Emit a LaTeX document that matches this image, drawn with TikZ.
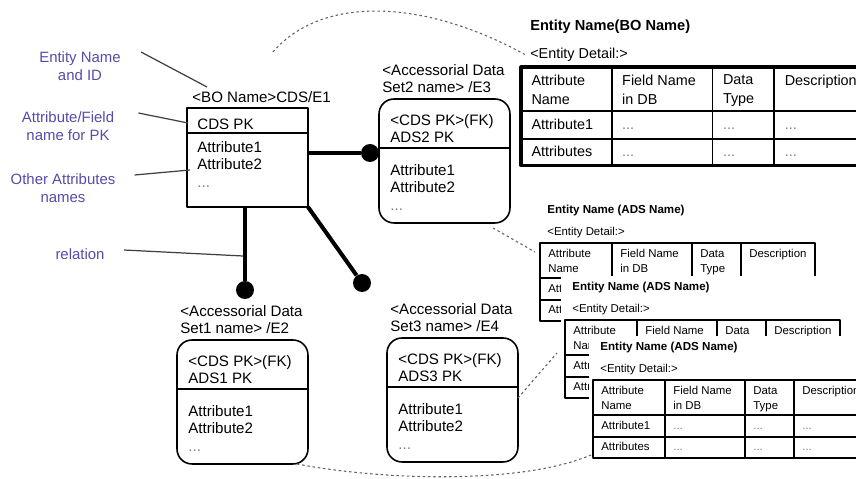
\documentclass[tikz,border=0pt]{standalone}
\usepackage{fontspec}
\setmainfont{Liberation Sans}
\definecolor{hintblue}{RGB}{86,76,170}
\definecolor{linkgray}{RGB}{95,95,95}
\tikzset{
  boxtxt/.style={inner sep=0, align=left, font=\fontsize{8.6}{10}\selectfont},
  hint/.style={inner sep=0, align=center, text=hintblue, font=\fontsize{8.5}{10.2}\selectfont},
  pointer/.style={draw=black!75, line width=0.7pt},
  entbox/.style={draw, line width=0.9pt, inner sep=0, outer sep=0},
  entline/.style={line width=0.9pt},
  adsbox/.style={entbox, rounded corners=0.3cm, minimum width=2.62cm, minimum height=2.48cm},
  rel/.style={line width=2.3pt},
  reldot/.style={circle, fill, inner sep=0, minimum size=0.36cm},
  dotlink/.style={draw=linkgray, line width=0.6pt, dash pattern=on 1.4pt off 1.6pt},
  tabtxt/.style={inner sep=0, align=left, font=\fontsize{6.5}{8.5}\selectfont},
  tabtitle/.style={inner sep=0, font=\fontsize{6.6}{8}\selectfont\bfseries},
  tabdots/.style={tabtxt, text=gray},
  tabline/.style={line width=0.6pt},
  tabframe/.style={line width=1.3pt},
}
% accessorial data set entity: name, position, set no., id, pk
\newcommand{\adsent}[5]{%
  \node[adsbox, anchor=north west] (#1) at #2 {};
  \node[boxtxt, anchor=north west] (#1-name) at ([shift={(3,-35)}]#1.north west) {<Accessorial Data\\Set#3 name> /E#4};
  \node[boxtxt, anchor=north west] (#1-pk) at ([shift={(11,15)}]#1.north west) {<CDS PK>(FK)\\#5};
  \draw[entline] ([yshift=-0.98cm]#1.north west) -- ([yshift=-0.98cm]#1.north east);
  \node[boxtxt, anchor=north west] (#1-att) at ([shift={(11,65)}]#1.north west) {Attribute1\\Attribute2\\{\color{gray}...}};
}
% entity detail table: name, title, scope options, y = draw the row cells
\newcommand{\enttable}[4]{%
  \begin{scope}[#3]
    \fill[white] (-4,-44) rectangle (300,100);
    \node[tabtitle, anchor=base west] (#1-title) at (7,-29) {#2};
    \node[tabtxt, anchor=base west] (#1-detail) at (7,-7) {<Entity Detail:>};
    \coordinate (#1-nw) at (0,0);
    \coordinate (#1-hl) at (0,35);
    \coordinate (#1-sw) at (0,78);
    \draw[tabline] (0,35) -- (275,35) (0,57) -- (275,57)
      (72,0) -- (72,78) (152,0) -- (152,78) (201,0) -- (201,78);
    \draw[tabframe] (0,0) rectangle (275,78);
    \foreach \cx/\ct [count=\i] in {8/{Attribute\\Name}, 80/{Field Name\\in DB}, 160/{Data\\Type}, 209/Description}
      \node[tabtxt, anchor=north west] (#1-h\i) at (\cx,6) {\ct};
    \foreach \ry/\rt [count=\j] in {50/Attribute1, 71/Attributes} {
      \node[tabtxt, anchor=base west] (#1-r\j) at (8,\ry) {\rt};
      \ifx y#4
      \foreach \cx [count=\k] in {80,160,209}
        \node[tabdots, anchor=base west] (#1-r\j-\k) at (\cx,\ry) {...};
      \fi
    }
  \end{scope}}

\begin{document}
\begin{tikzpicture}[x=0.02cm, y=-0.02cm, line join=round]
\useasboundingbox (0,0) rectangle (856,479);
\clip (0,0) rectangle (856,479);
\fill[white] (0,0) rectangle (856,479);
%	\draw[color=gray!50,dashed,step=50] (0,0) grid (856,479);

% hints on the left
\node[hint] (hint-id) at (80,66) {Entity Name\\and ID};
\node[hint] (hint-pk) at (68,126) {Attribute/Field\\name for PK};
\node[hint] (hint-att) at (63,188) {Other Attributes\\names};
\node[hint] (hint-rel) at (80,254) {relation};

% BO entity
\node[entbox, minimum width=2.42cm, minimum height=1.98cm, anchor=north west] (bo) at (187,108) {};
\node[boxtxt, anchor=base west] (bo-name) at (192,103) {<BO Name>CDS/E1};
\node[boxtxt, anchor=base west] (bo-pk) at (197,130) {CDS PK};
\draw[entline] ([yshift=-0.5cm]bo.north west) -- ([yshift=-0.5cm]bo.north east);
\node[boxtxt, anchor=north west] (bo-att) at (197,141) {Attribute1\\Attribute2\\{\color{gray}...}};

\coordinate (p-id) at (207,87);
\coordinate (p-pk) at (188,123);
\coordinate (p-att) at (190,170);
\coordinate (p-rel) at (243,256);
\draw[pointer] ([shift={(20,-14)}]hint-id.east) -- (p-id);
\draw[pointer] ([shift={(24,-13)}]hint-pk.east) -- (p-pk);
\draw[pointer] ([shift={(19,-13)}]hint-att.east) -- (p-att);
\draw[pointer] ([shift={(19,-4)}]hint-rel.east) -- (p-rel);

% accessorial data sets
\adsent{ads2}{(379,99)}{2}{3}{ADS2 PK}
\adsent{ads1}{(177,340)}{1}{2}{ADS1 PK}
\adsent{ads3}{(387,338)}{3}{4}{ADS3 PK}

% relations
\node[reldot] (d1) at (245,290) {};
\node[reldot] (d2) at (362,283) {};
\node[reldot] (d3) at (370,153) {};
\draw[rel] (d1 |- bo.south) -- (d1);
\draw[rel] (bo.south east) -- (d2);
\draw[rel] (bo.east |- d3) -- (d3);

% detail tables
\enttable{t0}{Entity Name(BO Name)}{shift={(521,67)}, scale=1.26, transform shape, tabframe/.append style={line width=1.8pt}, tabline/.append style={line width=1pt}}{y}
\enttable{t1}{Entity Name (ADS Name)}{shift={(540,243)}}{n}
\enttable{t2}{Entity Name (ADS Name)}{shift={(565,320)}}{n}
\enttable{t3}{Entity Name (ADS Name)}{shift={(593,380)}}{y}

% links to the tables
\coordinate (l-bo) at (273,52);
\draw[dotlink] (l-bo) .. controls (320,-3) and (420,-3) .. ([xshift=-0.1cm]t0-detail.west);
\draw[dotlink] ([xshift=-0.34cm, yshift=-0.1cm]ads2.south east) -- ([shift={(-5,9)}]t1-nw);
\draw[dotlink] ([shift={(0,60)}]ads3.north east) -- ([shift={(-8,-2)}]t2-hl);
\draw[dotlink] ([xshift=-0.22cm]ads1.south east) .. controls (380,480) and (520,485) .. ([shift={(-2,-3)}]t3-sw);
\end{tikzpicture}
\end{document}
